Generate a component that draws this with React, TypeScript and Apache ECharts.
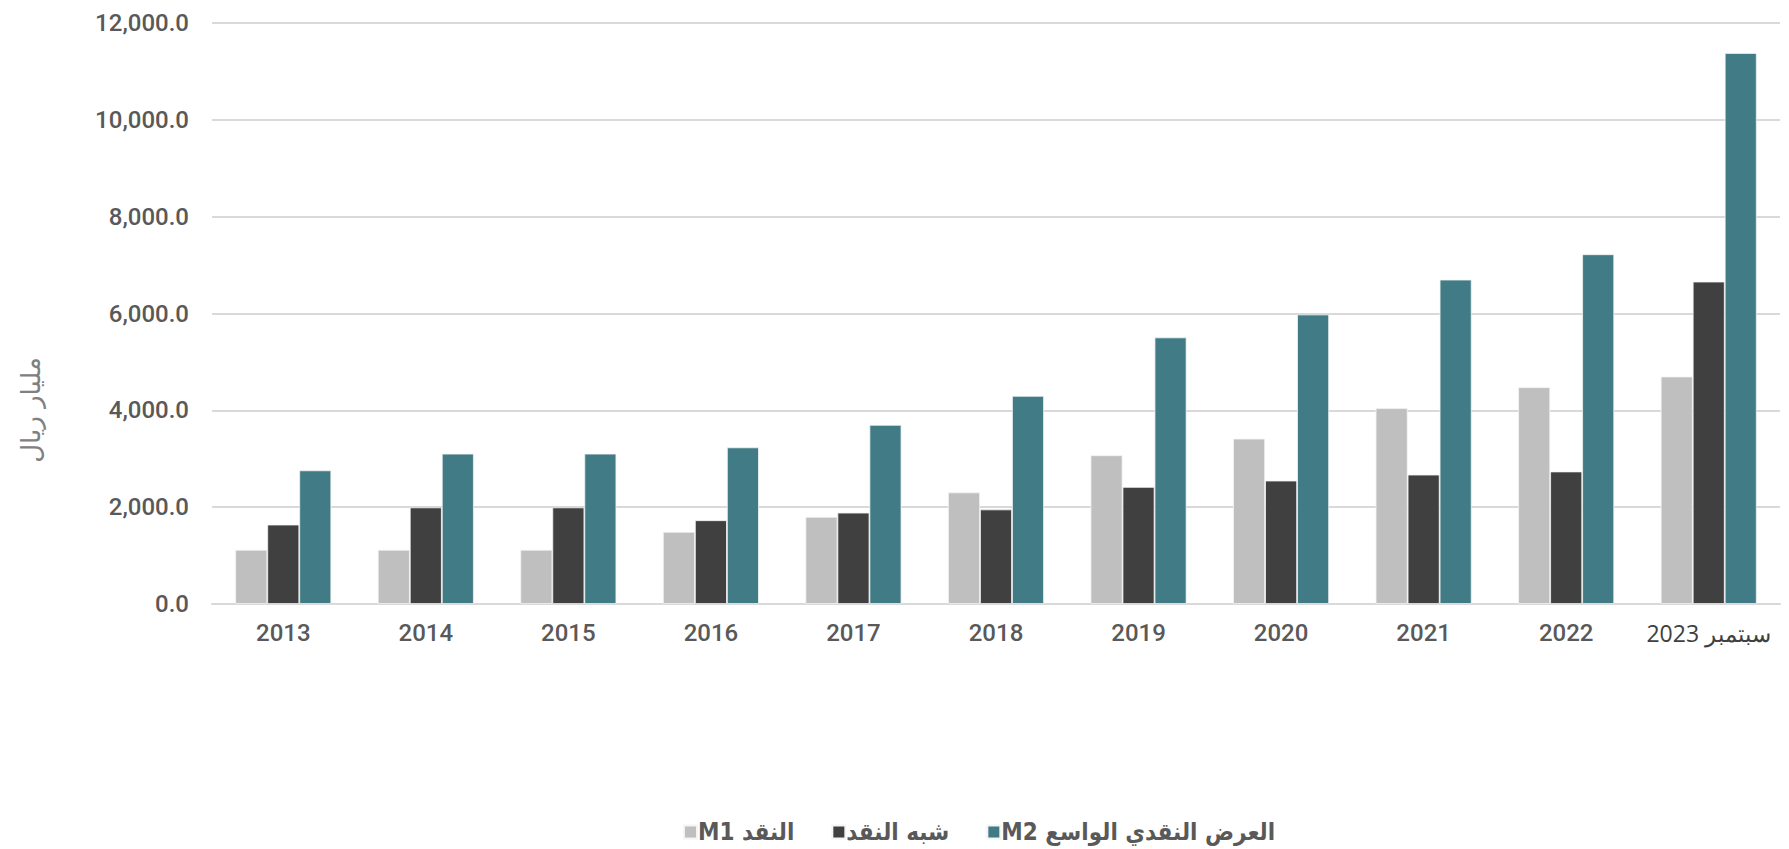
import React, { useEffect, useRef } from "react";
import * as echarts from "echarts";

const categories = ["2013", "2014", "2015", "2016", "2017", "2018", "2019", "2020", "2021", "2022", "2023 سبتمبر"];
const seriesNames = ["M1 النقد", "شبه النقد", "M2 العرض النقدي الواسع"];
const m1Values = [1120, 1120, 1120, 1490, 1800, 2304, 3072, 3415, 4044, 4477, 4698];
const quasiValues = [1640, 1995, 1995, 1730, 1887, 1953, 2418, 2549, 2672, 2737, 6659];
const m2Values = [2760, 3105, 3105, 3235, 3700, 4298, 5506, 5980, 6700, 7223, 11380];
const yAxisTitle = "مليار ريال";
const colors = ["#bfbfbf", "#404040", "#417b85"];

export default function App() {
  const ref = useRef<HTMLDivElement>(null);
  useEffect(() => {
    if (!ref.current) return;
    const chart = echarts.init(ref.current, null, { renderer: "svg" });
    const labelFont = "Roboto, 'Liberation Sans', sans-serif";
    const values = [m1Values, quasiValues, m2Values];
    chart.setOption({
      animation: false,
      backgroundColor: "#ffffff",
      grid: { left: 212, right: 9, top: 23, bottom: 245 },
      legend: {
        left: 678,
        top: 815,
        itemWidth: 13,
        itemHeight: 13,
        itemGap: 37,
        icon: "rect",
        textStyle: {
          fontSize: 24,
          fontWeight: "bold",
          color: "#595959",
          fontFamily: "'DejaVu Sans Condensed', 'DejaVu Sans', sans-serif",
          padding: [0, 0, 0, -4],
        },
        data: seriesNames,
      },
      xAxis: {
        type: "category",
        data: categories,
        axisTick: { show: false },
        axisLine: { lineStyle: { color: "#d9d9d9", width: 2 } },
        axisLabel: {
          fontSize: 24,
          color: "#595959",
          fontFamily: labelFont,
          fontWeight: 500,
          margin: 17,
          interval: 0,
          formatter: (v: string, i: number) => (i === categories.length - 1 ? "{b|" + v + "}" : v),
          rich: {
            b: { fontSize: 23, color: "#404040", fontFamily: "'Open Sans', 'Noto Sans', sans-serif" },
          },
        },
      },
      yAxis: {
        type: "value",
        min: 0,
        max: 12000,
        interval: 2000,
        axisLine: { show: false },
        axisTick: { show: false },
        splitLine: { lineStyle: { color: "#d9d9d9", width: 2 } },
        axisLabel: {
          fontSize: 24,
          color: "#595959",
          fontFamily: labelFont,
          fontWeight: 500,
          margin: 23,
          formatter: (v: number) =>
            v.toLocaleString("en-US", { minimumFractionDigits: 1, maximumFractionDigits: 1 }),
        },
      },
      graphic: [
        {
          type: "text",
          x: 31,
          y: 410,
          rotation: Math.PI / 2,
          style: {
            text: yAxisTitle,
            fontSize: 26,
            fill: "#808080",
            align: "center",
            verticalAlign: "middle",
            fontFamily: "'DejaVu Sans', sans-serif",
          },
        },
      ],
      series: seriesNames.map((name, k) => ({
        name,
        type: "bar",
        data: values[k],
        barWidth: 32,
        barGap: "0%",
        itemStyle: { color: colors[k], borderColor: "#f4f4f4", borderWidth: 0.8 },
      })),
    });
    return () => chart.dispose();
  }, []);
  return (
    <div
      ref={ref}
      style={{ position: "fixed", left: 0, top: 0, width: 1789, height: 849 }}
    />
  );
}
